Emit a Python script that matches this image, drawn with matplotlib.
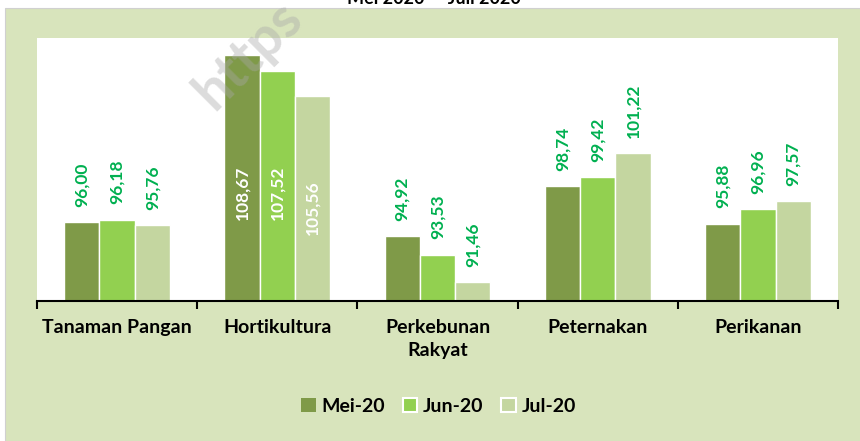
import matplotlib
matplotlib.use("Agg")
import matplotlib.pyplot as plt
from matplotlib.patches import Rectangle
import numpy as np

plt.rcParams['font.family'] = ['Lato', 'DejaVu Sans']

categories = ["Tanaman Pangan", "Hortikultura", "Perkebunan\nRakyat", "Peternakan", "Perikanan"]
series_names = ["Mei-20", "Jun-20", "Jul-20"]
mei = [96.00, 108.67, 94.92, 98.74, 95.88]
jun = [96.18, 107.52, 93.53, 99.42, 96.96]
jul = [95.76, 105.56, 91.46, 101.22, 97.57]
title_text = "Mei 2020 \u2014 Juli 2020"

colors = ["#7F9A48", "#92D050", "#C4D6A0"]
label_green = "#00B050"
bg = "#D8E4BC"

fig = plt.figure(figsize=(8.6, 4.41), dpi=100)
fig.patch.set_facecolor("white")
fig.add_artist(Rectangle((5/860, 0), 1, 1 - 8/441, transform=fig.transFigure,
                         facecolor=bg, edgecolor="#D0D0D0", lw=0.8, zorder=0))
fig.text(0.505, 1.0 + 0.004, title_text, ha="center", va="center", fontsize=13,
         fontweight="bold", color="black", zorder=1)

ax = fig.add_axes([37/860, 1 - 301/441, (838-37)/860, (301-38)/441])
ax.set_facecolor("white")
ax.set_xlim(-0.5, 4.5)
ax.set_ylim(90, 110)

x = np.arange(len(categories))
w = 0.22
data = [mei, jun, jul]
inside_idx = 1
inside_y = [98.2, 98.2, 97.1]
for i, (vals, c, name) in enumerate(zip(data, colors, series_names)):
    xs = x + (i - 1) * w
    ax.bar(xs, np.array(vals) - 90, bottom=90, width=w, color=c,
           edgecolor="white", linewidth=1, label=name, zorder=2)
    for j, (xx, v) in enumerate(zip(xs, vals)):
        txt = f"{v:.2f}".replace(".", ",")
        if j == inside_idx:
            ax.text(xx, inside_y[i], txt, rotation=90, ha="center", va="center",
                    color="white", fontsize=12.5, fontweight="bold", zorder=3)
        else:
            ax.annotate(txt, (xx, v), xytext=(0, 11), textcoords="offset points",
                        rotation=90, ha="center", va="bottom", color=label_green,
                        fontsize=12.5, fontweight="bold", zorder=3)

for s in ["left", "right", "top"]:
    ax.spines[s].set_visible(False)
ax.spines["bottom"].set_color("black")
ax.spines["bottom"].set_linewidth(1.5)
ax.set_yticks([])
ax.set_xticks(x)
ax.set_xticklabels(categories, fontsize=14, fontweight="bold", linespacing=1.45)
ax.tick_params(axis="x", which="major", length=0, pad=13)
ax.set_xticks(np.arange(-0.5, 5, 1), minor=True)
ax.tick_params(axis="x", which="minor", length=6, width=1.5, color="black", direction="out")

handles = [Rectangle((0, 0), 1, 1, facecolor=c, edgecolor=("none" if i == 0 else "white"), lw=1.5)
           for i, c in enumerate(colors)]
fig.legend(handles, series_names, loc="center", bbox_to_anchor=(0.51, 1 - 406/441),
           ncol=3, frameon=False, handlelength=0.75, handleheight=0.75,
           handletextpad=0.3, columnspacing=0.9,
           prop={"family": "Lato", "weight": "bold", "size": 14})

fig.text(248/860, 1 - 55/441, "https", rotation=45, ha="center", va="center", fontsize=40,
         fontweight="bold", color="#A8A8A8", alpha=0.4, zorder=10)

fig.savefig("out.png", dpi=100, facecolor=fig.get_facecolor())
